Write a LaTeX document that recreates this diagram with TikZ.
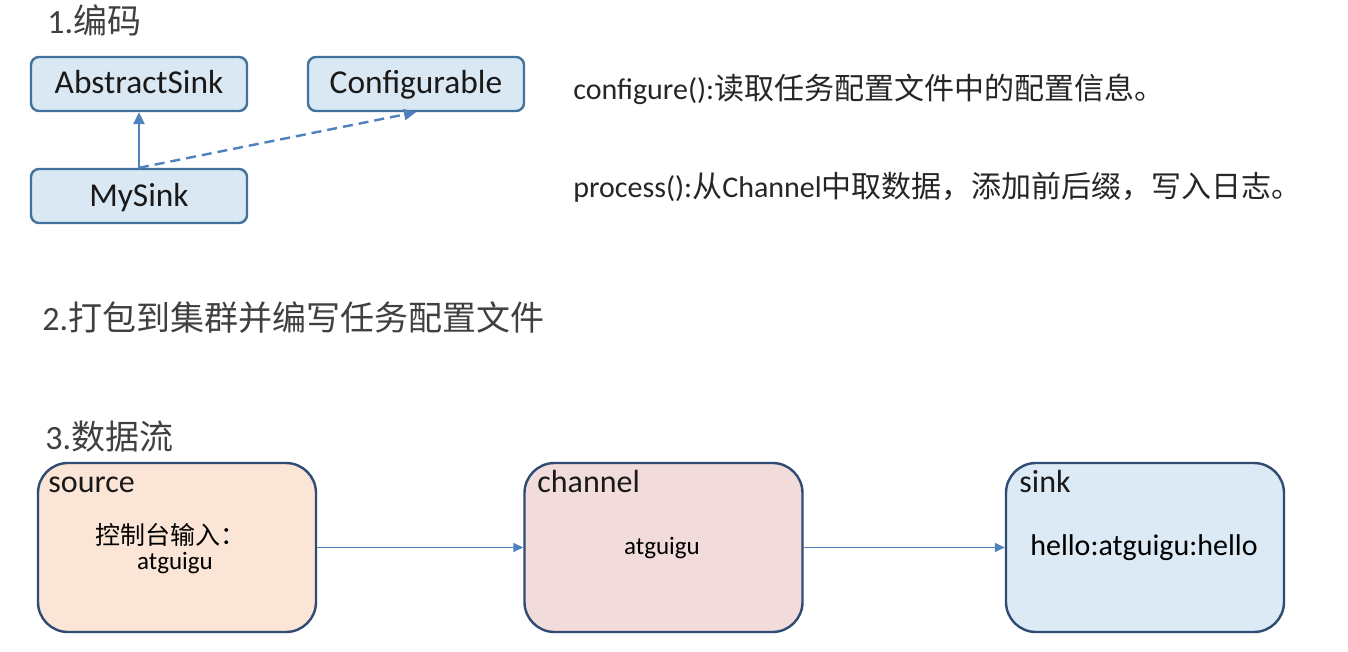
\documentclass[tikz,border=0pt]{standalone}
\usepackage{fontspec}
\setmainfont{Carlito}
\newfontfamily\cjk{Noto Sans CJK SC}
\usepackage{tikz}
\usetikzlibrary{
    arrows.meta,
    positioning
}

\definecolor{classfill}{HTML}{DAE8F4}
\definecolor{classline}{HTML}{41719C}
\definecolor{flowline}{HTML}{4F81BD}
\definecolor{sourcefill}{HTML}{FBE5D6}
\definecolor{channelfill}{HTML}{F2DCDB}
\definecolor{sinkfill}{HTML}{DBEAF5}
\definecolor{stageline}{HTML}{2F4B73}
\definecolor{headgray}{HTML}{404040}

\tikzset{
    classbox/.style={draw=classline, line width=1.2pt, fill=classfill, rounded corners=4pt,
        minimum width=108pt, minimum height=27pt, text height=12.5pt, text depth=2.5pt,
        text=black!90, font=\fontsize{16.7}{19}\selectfont},
    stagebox/.style={draw=stageline, line width=1.2pt, rounded corners=15pt,
        minimum width=139pt, minimum height=84.5pt},
    stagelabel/.style={anchor=base west, inner sep=0pt, text=black!90, font=\fontsize{16}{19}\selectfont},
    heading/.style={anchor=west, inner sep=0pt, text=headgray, font=\fontsize{17}{20}\selectfont},
    note/.style={anchor=west, inner sep=0pt, text=black!85, font=\fontsize{15}{18}\selectfont},
    inherit/.style={-{Triangle[length=6pt, width=5.5pt]}, draw=flowline, line width=1.2pt},
    flow/.style={-{Triangle[length=5pt, width=4.5pt]}, draw=flowline, line width=0.7pt}
}

\begin{document}
\begin{tikzpicture}[x=0.5pt, y=-0.5pt]
        \useasboundingbox[fill=white] (0,0) rectangle (1348,652);

        % Step 1: the classes
        \node[heading] (head1) at (47,20) {1.{\cjk 编码}};
        \node[classbox] (abssink) at (139,84) {AbstractSink};
        \node[classbox] (conf) at (416,84) {Configurable};
        \node[classbox] (mysink) at (139,196) {MySink};

        % Inheritance and interface
        \draw[inherit] (mysink.north) -- (abssink.south);
        \draw[inherit, dashed, dash pattern=on 5pt off 3pt] (mysink.north) -- (conf.south);

        % Method notes
        \node[note] (confnote) at (573,89) {configure():{\cjk 读取任务配置文件中的配置信息。}};
        \node[note] (procnote) at (573,187) {process():{\cjk 从}Channel{\cjk 中取数据，添加前后缀，写入日志。}};

        % Step 2
        \node[heading] (head2) at (42,318) {2.{\cjk 打包到集群并编写任务配置文件}};

        % Step 3: the data flow
        \node[heading] (head3) at (45,437) {3.{\cjk 数据流}};
        \node[stagebox, fill=sourcefill] (src) at (177,547.5) {};
        \node[stagebox, fill=channelfill] (chan) at (663.5,547.5) {};
        \node[stagebox, fill=sinkfill] (snk) at (1145,547.5) {};

        \node[stagelabel] (srclab) at (48,492) {source};
        \node[stagelabel] (chanlab) at (537,492) {channel};
        \node[stagelabel] (snklab) at (1019,492) {sink};

        \node[font=\fontsize{12.5}{15}\selectfont\cjk, inner sep=0pt] (srcin) at (170,535) {控制台输入：};
        \node[font=\fontsize{12.5}{15}\selectfont, inner sep=0pt] (srcdata) at (175,563) {atguigu};
        \node[font=\fontsize{12.5}{15}\selectfont, inner sep=0pt] (chandata) at (662,548) {atguigu};
        \node[font=\fontsize{15}{18}\selectfont, inner sep=0pt] (snkdata) at (1144,548) {hello:atguigu:hello};

        \draw[flow] (src.east) -- (chan.west);
        \draw[flow] (chan.east) -- (snk.west);
    \end{tikzpicture}
\end{document}
